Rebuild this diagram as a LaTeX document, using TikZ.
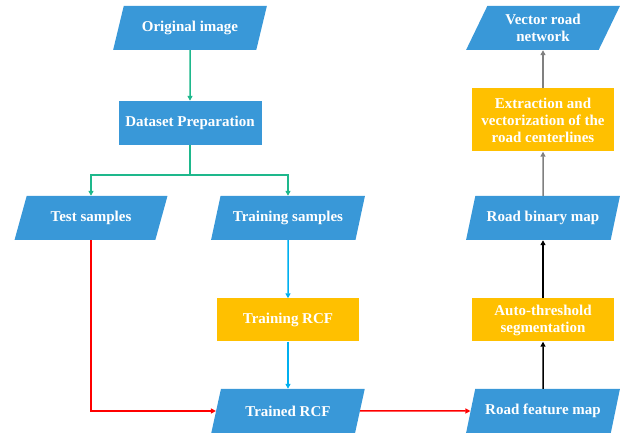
\documentclass[tikz,border=0pt]{standalone}
\usepackage{fontspec}
\setmainfont{Liberation Serif}
\usetikzlibrary{arrows.meta}
\usetikzlibrary{shapes.geometric}
\usetikzlibrary{positioning}

\definecolor{boxblue}{RGB}{57,152,216}
\definecolor{boxyellow}{RGB}{255,192,0}
\definecolor{linegreen}{RGB}{30,184,140}
\definecolor{linecyan}{RGB}{0,176,240}
\definecolor{linegray}{RGB}{128,128,128}

\tikzset{
	boxtext/.style={text=white, font=\fontsize{15}{17}\selectfont\bfseries, align=center, inner sep=1pt},
	databox/.style={boxtext, trapezium, trapezium left angle=63.4, trapezium right angle=116.6,
	                trapezium stretches=true, fill=boxblue, minimum width=154pt, minimum height=44pt},
	stepbox/.style={boxtext, rectangle, fill=boxyellow, minimum width=142pt, minimum height=43pt},
	prepbox/.style={boxtext, rectangle, fill=boxblue, minimum width=143pt, minimum height=44pt},
	flow/.style={line width=1.5pt, -{Triangle[length=5pt,width=5pt]}}
}

\begin{document}
\begin{tikzpicture}[x=1pt, y=-1pt]
	\useasboundingbox (0,0) rectangle (622,435);

	% left part
	\node[databox] (orig) at (190,28) {Original image};
	\node[prepbox] (prep) at (190,123) {Dataset Preparation};
	\node[databox] (test) at (91,218) {Test samples};
	\node[databox] (train) at (288,218) {Training samples};
	\node[stepbox] (trcf) at (288,320) {Training RCF};
	\node[databox] (trained) at (288,411) {Trained RCF};

	% right part
	\node[databox] (feat) at (543,411) {Road feature map};
	\node[stepbox] (auto) at (543,320) {Auto-threshold\\segmentation};
	\node[databox] (binary) at (543,218) {Road binary map};
	\node[stepbox, minimum height=63pt] (extr) at (543,120) {Extraction and\\vectorization of the\\road centerlines};
	\node[databox] (vector) at (543,28) {Vector road\\network};

	\coordinate (split) at (190,175);

	\begin{scope}[flow, draw=linegreen]
		\draw (orig) -- (prep);
		\draw (prep) -- (split) -| (test);
		\draw (prep) -- (split) -| (train);
	\end{scope}

	\begin{scope}[flow, draw=linecyan]
		\draw (train) -- (trcf);
		\draw (trcf) -- (trained);
	\end{scope}

	\begin{scope}[flow, draw=red]
		\draw (test.south) |- (trained.west);
		\draw (trained.east) -- (feat.west);
	\end{scope}

	\begin{scope}[flow, draw=black]
		\draw (feat) -- (auto);
		\draw (auto) -- (binary);
	\end{scope}

	\begin{scope}[flow, draw=linegray]
		\draw (binary) -- (extr);
		\draw (extr) -- (vector);
	\end{scope}
\end{tikzpicture}
\end{document}
